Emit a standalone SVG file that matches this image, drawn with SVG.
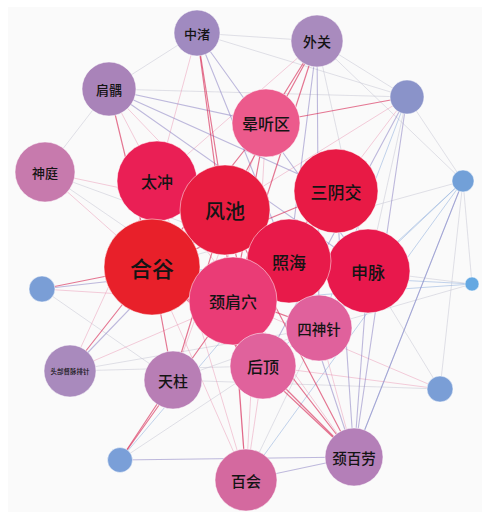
<svg xmlns="http://www.w3.org/2000/svg" width="482" height="515" viewBox="0 0 482 515">
<style>
.bg{fill:#fafafa}
line{stroke-linecap:round}
.r{stroke:#d8305a;stroke-opacity:.65;stroke-width:1.2}
.p{stroke:#e890b0;stroke-opacity:.45;stroke-width:1}
.v{stroke:#8a82c2;stroke-opacity:.55;stroke-width:1.1}
.g{stroke:#c8c8d6;stroke-opacity:.55;stroke-width:1}
.b{stroke:#9ab6e0;stroke-opacity:.6;stroke-width:1}
circle{stroke:#ffffff;stroke-opacity:.5;stroke-width:1}
text{font-family:"Noto Sans CJK SC","Noto Sans",sans-serif;font-weight:500;fill:#141414;text-anchor:middle;dominant-baseline:central}
</style>
<rect class="bg" x="8" y="7" width="474" height="505"/>
<g id="connectors">
<line class="g" x1="197" y1="33" x2="317" y2="41"/>
<line class="g" x1="197" y1="33" x2="109" y2="89"/>
<line class="g" x1="109" y1="89" x2="45" y2="172"/>
<line class="g" x1="109" y1="89" x2="407" y2="97"/>
<line class="g" x1="317" y1="41" x2="407" y2="97"/>
<line class="g" x1="317" y1="41" x2="463" y2="181"/>
<line class="g" x1="197" y1="33" x2="407" y2="97"/>
<line class="g" x1="45" y1="172" x2="233" y2="301"/>
<line class="g" x1="70" y1="371" x2="263" y2="366"/>
<line class="g" x1="70" y1="371" x2="319" y2="328"/>
<line class="g" x1="173" y1="380" x2="319" y2="328"/>
<line class="g" x1="246" y1="480" x2="319" y2="328"/>
<line class="g" x1="407" y1="97" x2="463" y2="181"/>
<line class="g" x1="463" y1="181" x2="472" y2="284"/>
<line class="g" x1="463" y1="181" x2="440" y2="389"/>
<line class="g" x1="472" y1="284" x2="289" y2="261"/>
<line class="g" x1="472" y1="284" x2="319" y2="328"/>
<line class="g" x1="440" y1="389" x2="368" y2="271"/>
<line class="g" x1="317" y1="41" x2="368" y2="271"/>
<line class="g" x1="407" y1="97" x2="368" y2="271"/>
<line class="g" x1="463" y1="181" x2="152" y2="267"/>
<line class="g" x1="45" y1="172" x2="289" y2="261"/>
<line class="g" x1="120" y1="460" x2="319" y2="328"/>
<line class="g" x1="173" y1="380" x2="440" y2="389"/>
<line class="g" x1="42" y1="289" x2="173" y2="380"/>
<line class="b" x1="120" y1="460" x2="289" y2="261"/>
<line class="b" x1="463" y1="181" x2="246" y2="480"/>
<line class="b" x1="463" y1="181" x2="368" y2="271"/>
<line class="b" x1="472" y1="284" x2="233" y2="301"/>
<line class="b" x1="472" y1="284" x2="152" y2="267"/>
<line class="b" x1="407" y1="97" x2="319" y2="328"/>
<line class="b" x1="463" y1="181" x2="263" y2="366"/>
<line class="b" x1="463" y1="181" x2="354" y2="457"/>
<line class="p" x1="197" y1="33" x2="157" y2="181"/>
<line class="p" x1="109" y1="89" x2="225" y2="210"/>
<line class="p" x1="109" y1="89" x2="157" y2="181"/>
<line class="p" x1="246" y1="480" x2="263" y2="366"/>
<line class="p" x1="246" y1="480" x2="225" y2="210"/>
<line class="p" x1="246" y1="480" x2="266" y2="123"/>
<line class="p" x1="354" y1="457" x2="319" y2="328"/>
<line class="p" x1="407" y1="97" x2="336" y2="191"/>
<line class="p" x1="407" y1="97" x2="225" y2="210"/>
<line class="p" x1="440" y1="389" x2="263" y2="366"/>
<line class="p" x1="440" y1="389" x2="233" y2="301"/>
<line class="p" x1="45" y1="172" x2="152" y2="267"/>
<line class="p" x1="45" y1="172" x2="225" y2="210"/>
<line class="p" x1="70" y1="371" x2="233" y2="301"/>
<line class="p" x1="70" y1="371" x2="157" y2="181"/>
<line class="p" x1="173" y1="380" x2="266" y2="123"/>
<line class="p" x1="317" y1="41" x2="157" y2="181"/>
<line class="p" x1="354" y1="457" x2="157" y2="181"/>
<line class="p" x1="246" y1="480" x2="157" y2="181"/>
<line class="p" x1="246" y1="480" x2="152" y2="267"/>
<line class="p" x1="42" y1="289" x2="233" y2="301"/>
<line class="v" x1="197" y1="33" x2="289" y2="261"/>
<line class="v" x1="109" y1="89" x2="336" y2="191"/>
<line class="v" x1="109" y1="89" x2="266" y2="123"/>
<line class="v" x1="317" y1="41" x2="289" y2="261"/>
<line class="v" x1="407" y1="97" x2="354" y2="457"/>
<line class="v" x1="463" y1="181" x2="354" y2="457"/>
<line class="v" x1="42" y1="289" x2="289" y2="261"/>
<line class="v" x1="120" y1="460" x2="354" y2="457"/>
<line class="v" x1="246" y1="480" x2="354" y2="457"/>
<line class="v" x1="354" y1="457" x2="289" y2="261"/>
<line class="v" x1="354" y1="457" x2="368" y2="271"/>
<line class="v" x1="354" y1="457" x2="336" y2="191"/>
<line class="v" x1="109" y1="89" x2="368" y2="271"/>
<line class="v" x1="317" y1="41" x2="319" y2="328"/>
<line class="v" x1="407" y1="97" x2="263" y2="366"/>
<line class="v" x1="197" y1="33" x2="368" y2="271"/>
<line class="v" x1="70" y1="371" x2="225" y2="210"/>
<line class="r" x1="197" y1="33" x2="225" y2="210"/>
<line class="r" x1="197" y1="33" x2="233" y2="301"/>
<line class="r" x1="109" y1="89" x2="152" y2="267"/>
<line class="r" x1="317" y1="41" x2="266" y2="123"/>
<line class="r" x1="317" y1="41" x2="225" y2="210"/>
<line class="r" x1="317" y1="41" x2="233" y2="301"/>
<line class="r" x1="354" y1="457" x2="263" y2="366"/>
<line class="r" x1="354" y1="457" x2="233" y2="301"/>
<line class="r" x1="354" y1="457" x2="225" y2="210"/>
<line class="r" x1="354" y1="457" x2="152" y2="267"/>
<line class="r" x1="70" y1="371" x2="152" y2="267"/>
<line class="r" x1="42" y1="289" x2="152" y2="267"/>
<line class="r" x1="120" y1="460" x2="173" y2="380"/>
<line class="r" x1="120" y1="460" x2="233" y2="301"/>
<line class="r" x1="173" y1="380" x2="225" y2="210"/>
<line class="r" x1="173" y1="380" x2="152" y2="267"/>
<line class="r" x1="263" y1="366" x2="152" y2="267"/>
<line class="r" x1="263" y1="366" x2="225" y2="210"/>
<line class="r" x1="246" y1="480" x2="233" y2="301"/>
<line class="r" x1="319" y1="328" x2="152" y2="267"/>
<line class="r" x1="157" y1="181" x2="289" y2="261"/>
<line class="r" x1="266" y1="123" x2="233" y2="301"/>
<line class="r" x1="266" y1="123" x2="152" y2="267"/>
<line class="r" x1="336" y1="191" x2="152" y2="267"/>
<line class="r" x1="336" y1="191" x2="233" y2="301"/>
<line class="r" x1="407" y1="97" x2="266" y2="123"/>
</g>
<g id="n15"><circle cx="109" cy="89" r="27" fill="#a983b9"/><text x="109" y="89" font-size="13">肩髃</text></g>
<g id="n16"><circle cx="197" cy="33" r="23" fill="#a08ac0"/><text x="197" y="33" font-size="13">中渚</text></g>
<g id="n17"><circle cx="317" cy="41" r="26" fill="#a98bbe"/><text x="317" y="41" font-size="14">外关</text></g>
<g id="n14"><circle cx="45" cy="172" r="30" fill="#c77aad"/><text x="45" y="172" font-size="13">神庭</text></g>
<g id="s1"><circle cx="407" cy="97" r="17" fill="#8a93c9"/></g>
<g id="s2"><circle cx="463" cy="181" r="11" fill="#72a0d8"/></g>
<g id="s3"><circle cx="472" cy="284" r="7" fill="#64a8e2"/></g>
<g id="s4"><circle cx="440" cy="389" r="13" fill="#7a9ed6"/></g>
<g id="s5"><circle cx="120" cy="460" r="12.5" fill="#7a9fd8"/></g>
<g id="s6"><circle cx="42" cy="289" r="13" fill="#7a9ed6"/></g>
<g id="n18"><circle cx="70" cy="371" r="26" fill="#a98abd"/><text x="70" y="371" font-size="6.5">头部督脉排针</text></g>
<g id="n8"><circle cx="266" cy="123" r="34" fill="#ec5a8c"/><text x="266" y="123" font-size="16">晕听区</text></g>
<g id="n3"><circle cx="157" cy="181" r="40" fill="#ea1f55"/><text x="157" y="181" font-size="16">太冲</text></g>
<g id="n4"><circle cx="336" cy="191" r="42" fill="#e81a45"/><text x="336" y="191" font-size="17">三阴交</text></g>
<g id="n2"><circle cx="225" cy="210" r="45" fill="#e81c40"/><text x="225" y="210" font-size="20">风池</text></g>
<g id="n6"><circle cx="368" cy="271" r="42" fill="#e8184c"/><text x="368" y="271" font-size="17">申脉</text></g>
<g id="n5"><circle cx="289" cy="261" r="42" fill="#e81a4a"/><text x="289" y="261" font-size="17">照海</text></g>
<g id="n1"><circle cx="152" cy="267" r="48" fill="#e8202a"/><text x="152" y="267" font-size="22">合谷</text></g>
<g id="n9"><circle cx="319" cy="328" r="33" fill="#e0619c"/><text x="319" y="328" font-size="14.5">四神针</text></g>
<g id="n7"><circle cx="233" cy="301" r="44" fill="#ea3c76"/><text x="233" y="301" font-size="16">颈肩穴</text></g>
<g id="n10"><circle cx="263" cy="366" r="33" fill="#e0629c"/><text x="263" y="366" font-size="16">后顶</text></g>
<g id="n13"><circle cx="173" cy="380" r="29" fill="#b87eb5"/><text x="173" y="380" font-size="15">天柱</text></g>
<g id="n12"><circle cx="354" cy="457" r="29" fill="#b47fb8"/><text x="354" y="457" font-size="14.5">颈百劳</text></g>
<g id="n11"><circle cx="246" cy="480" r="31" fill="#d4699f"/><text x="246" y="480" font-size="15">百会</text></g>
</svg>
